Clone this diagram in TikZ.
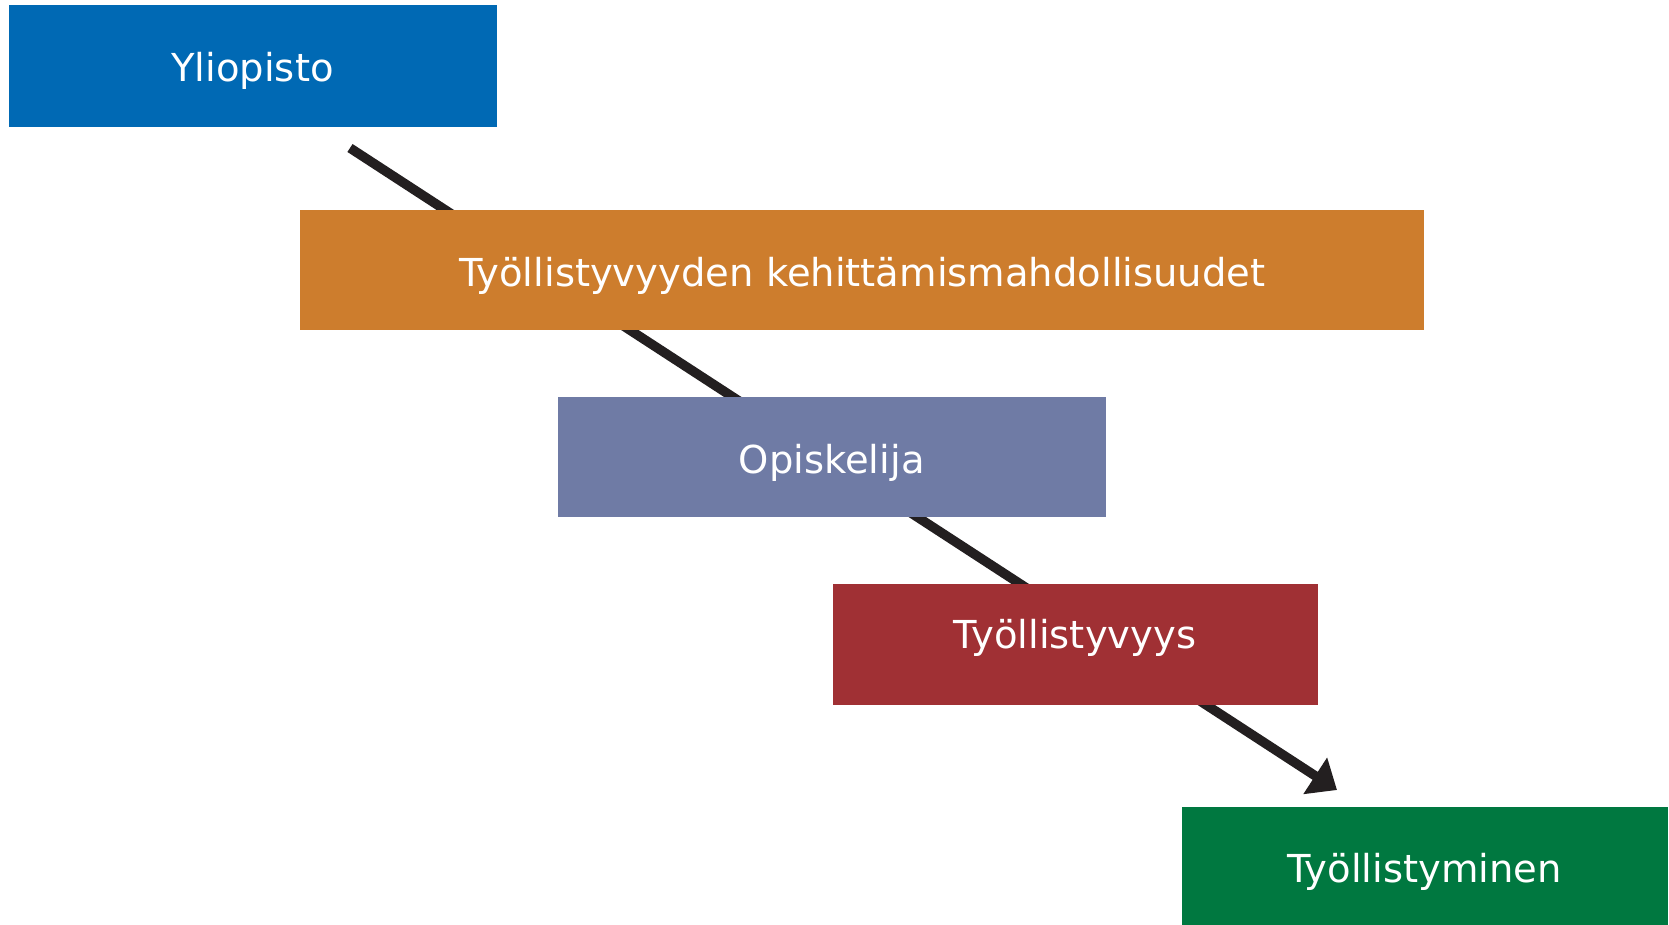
\documentclass[tikz,border=0pt]{standalone}
\usepackage{fontspec}
\setmainfont{DejaVu Sans}
\usetikzlibrary{arrows.meta}
\definecolor{cblue}{RGB}{0,105,180}
\definecolor{corange}{RGB}{205,125,45}
\definecolor{cslate}{RGB}{111,123,165}
\definecolor{cred}{RGB}{160,48,52}
\definecolor{cgreen}{RGB}{0,120,64}
\definecolor{carrow}{RGB}{35,31,32}
\tikzset{
  box/.style={rectangle, inner sep=0pt, text=white, text height=32pt, text depth=0pt, font=\fontsize{38.5}{46}\selectfont},
  flow/.style={line width=9.5pt, draw=carrow, -{Triangle[length=26pt,width=42pt]}}
}
\begin{document}
\begin{tikzpicture}[x=1pt,y=-1pt]
\useasboundingbox[fill=white] (0,0) rectangle (1669,925);
\coordinate (s) at (350,148);
\coordinate (e) at (1337,790);
\draw[flow] (s) -- (e);
\node[box, fill=cblue, minimum width=488pt, minimum height=122pt] (uni) at (252.5,66) {Yliopisto};
\node[box, fill=corange, minimum width=1124pt, minimum height=120pt] (dev) at (862.2,270) {Työllistyvyyden kehittämismahdollisuudet};
\node[box, fill=cslate, minimum width=548pt, minimum height=120pt] (stu) at (831.7,457) {Opiskelija};
\node[box, fill=cred, minimum width=485pt, minimum height=121pt, text height=9pt] (emp) at (1075,644) {Työllistyvyys\hspace{14pt}};
\node[box, fill=cgreen, minimum width=486pt, minimum height=118pt] (job) at (1424.5,866) {Työllistyminen};
\end{tikzpicture}
\end{document}
